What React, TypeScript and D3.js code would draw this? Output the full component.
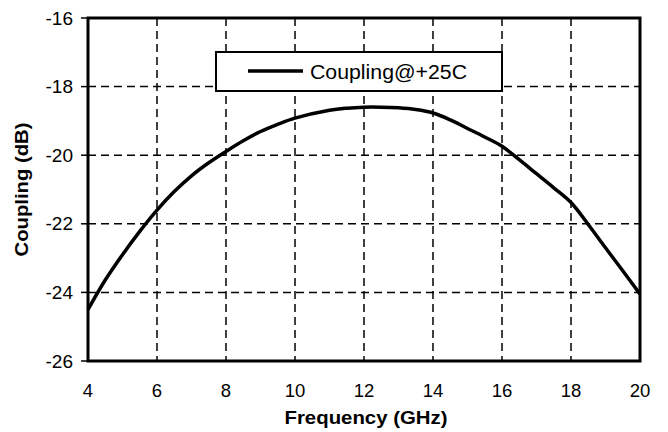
import React from "react";
import * as d3 from "d3";

// Coupling vs. frequency at +25C
const freqGHz = [4, 4.5, 5, 5.5, 6, 6.5, 7, 7.5, 8, 8.5, 9, 9.5, 10, 11, 11.5, 12, 12.5, 13, 13.5, 14, 14.5, 15, 15.5, 16, 16.5, 17, 17.5, 18, 18.5, 19, 19.5, 20];
const couplingDb = [-24.5, -23.64, -22.9, -22.22, -21.6, -21.06, -20.6, -20.22, -19.89, -19.58, -19.31, -19.1, -18.92, -18.69, -18.63, -18.6, -18.6, -18.62, -18.67, -18.77, -18.97, -19.22, -19.47, -19.74, -20.13, -20.54, -20.95, -21.38, -22.02, -22.7, -23.37, -24.05];

const xTicks = [4, 6, 8, 10, 12, 14, 16, 18, 20];
const yTicks = [-16, -18, -20, -22, -24, -26];
const seriesName = "Coupling@+25C";

const W = 668;
const H = 432;
const plot = { left: 88, right: 640, top: 18, bottom: 361 };

export default function App() {
  const x = d3.scaleLinear().domain([4, 20]).range([plot.left, plot.right]);
  const y = d3.scaleLinear().domain([-26, -16]).range([plot.bottom, plot.top]);

  const line = d3
    .line<number>()
    .x((_, i) => x(freqGHz[i]))
    .y((d) => y(d))
    .curve(d3.curveCatmullRom.alpha(0.5));

  const font = "'Liberation Sans', Arial, sans-serif";

  return (
    <svg
      width={W}
      height={H}
      style={{ position: "absolute", left: 0, top: 0, background: "#fff" }}
      fontFamily={font}
    >
      <rect x={0} y={0} width={W} height={H} fill="#fff" />
      {/* grid */}
      {xTicks.slice(1, -1).map((t) => (
        <line key={"gx" + t} x1={x(t)} x2={x(t)} y1={plot.top} y2={plot.bottom} stroke="#000" strokeWidth={1.5} strokeDasharray="8,5" />
      ))}
      {yTicks.slice(1, -1).map((t) => (
        <line key={"gy" + t} x1={plot.left} x2={plot.right} y1={y(t)} y2={y(t)} stroke="#000" strokeWidth={1.5} strokeDasharray="8,5" />
      ))}

      {/* curve */}
      <path d={line(couplingDb) || ""} fill="none" stroke="#000" strokeWidth={3.5} strokeLinejoin="round" />

      {/* frame */}
      <rect x={plot.left} y={plot.top} width={plot.right - plot.left} height={plot.bottom - plot.top} fill="none" stroke="#000" strokeWidth={3} />

      {/* y ticks */}
      {yTicks.map((t) => (
        <g key={"ty" + t}>
          <line x1={plot.left - 7} x2={plot.left} y1={y(t)} y2={y(t)} stroke="#000" strokeWidth={1.5} />
          <text x={73} y={y(t)} dy="0.35em" textAnchor="end" fontSize={19} fill="#000">
            {t}
          </text>
        </g>
      ))}

      {/* x ticks */}
      {xTicks.map((t) => (
        <text key={"tx" + t} x={x(t)} y={397} textAnchor="middle" fontSize={18.5} fill="#000">
          {t}
        </text>
      ))}

      {/* axis titles */}
      <text x={366} y={424} textAnchor="middle" fontSize={18} fontWeight="bold" fill="#000" textLength={163} lengthAdjust="spacingAndGlyphs">
        Frequency (GHz)
      </text>
      <text
        transform={`translate(28,${(plot.top + plot.bottom) / 2}) rotate(-90)`}
        textAnchor="middle"
        fontSize={18}
        fontWeight="bold"
        fill="#000"
        textLength={134}
        lengthAdjust="spacingAndGlyphs"
      >
        Coupling (dB)
      </text>

      {/* legend */}
      <rect x={216} y={52} width={286} height={39} fill="#fff" stroke="#000" strokeWidth={2} />
      <line x1={248} x2={303} y1={71} y2={71} stroke="#000" strokeWidth={3.5} />
      <text x={310} y={78.5} fontSize={20} fill="#000" textLength={157} lengthAdjust="spacingAndGlyphs">
        {seriesName}
      </text>
    </svg>
  );
}
